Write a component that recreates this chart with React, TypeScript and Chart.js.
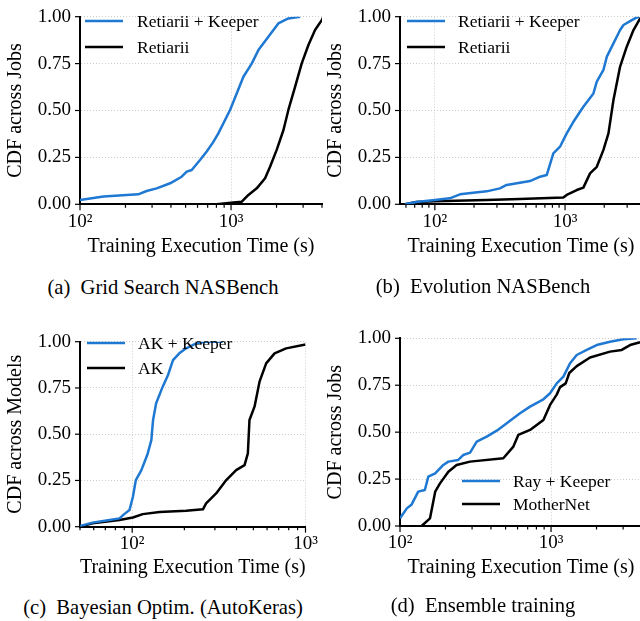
import { useEffect, useRef } from 'react';
import { Chart, registerables } from 'chart.js';

Chart.register(...registerables);

const FONT = "'Liberation Serif', 'Times New Roman', serif";
const BLUE = '#1f78d2';
const BLACK = '#000000';
const GRID = '#cccccc';

// ---------- (a) Grid Search NASBench ----------
const gridKeeperTime = [100, 143, 243, 276, 322, 395, 471, 509, 549, 623, 690, 760, 824, 985, 1090, 1207, 1370, 1517, 1766, 2056, 2396, 2864];
const gridKeeperCdf = [0.023, 0.041, 0.053, 0.071, 0.085, 0.112, 0.147, 0.174, 0.183, 0.236, 0.281, 0.33, 0.378, 0.503, 0.591, 0.68, 0.75, 0.822, 0.893, 0.964, 0.991, 1.0];
const gridBaseTime = [804, 1036, 1178, 1303, 1479, 1680, 1812, 2005, 2223, 2396, 2656, 2937, 3252, 3598, 3984, 4100];
const gridBaseCdf = [0, 0.009, 0.014, 0.05, 0.085, 0.139, 0.2, 0.29, 0.396, 0.503, 0.627, 0.751, 0.849, 0.929, 0.982, 1.0];

// ---------- (b) Evolution NASBench ----------
const evoKeeperTime = [59, 72, 100, 130, 156, 197, 250, 316, 356, 450, 538, 643, 723, 813, 915, 1030, 1159, 1383, 1652, 1753, 1972, 2094, 2354, 2648, 2811, 3258, 3556, 3700];
const evoKeeperCdf = [0, 0.012, 0.023, 0.032, 0.053, 0.062, 0.069, 0.085, 0.103, 0.115, 0.124, 0.147, 0.156, 0.272, 0.307, 0.378, 0.44, 0.52, 0.591, 0.654, 0.716, 0.787, 0.858, 0.929, 0.956, 0.982, 0.996, 1.0];
const evoBaseTime = [59, 72, 100, 250, 450, 970, 1030, 1230, 1383, 1556, 1753, 1972, 2155, 2354, 2648, 2978, 3354, 3775, 4000];
const evoBaseCdf = [0, 0.012, 0.016, 0.023, 0.028, 0.036, 0.05, 0.076, 0.089, 0.165, 0.2, 0.29, 0.378, 0.556, 0.734, 0.84, 0.929, 0.991, 1.0];

// ---------- (c) Bayesian Optim. (AutoKeras) ----------
const akKeeperTime = [50, 59, 74, 84.5, 90, 96.5, 101, 105, 113, 118, 123, 129, 132, 137.5, 150, 161, 172, 187, 205, 234, 267, 333];
const akKeeperCdf = [0.004, 0.022, 0.036, 0.045, 0.068, 0.09, 0.162, 0.252, 0.306, 0.351, 0.396, 0.468, 0.577, 0.667, 0.757, 0.82, 0.9, 0.937, 0.964, 0.991, 1.0, 1.0];
const akBaseTime = [50, 59, 84.5, 101, 115, 144, 205, 256, 267, 305, 349, 398, 445, 465, 475, 508, 543, 593, 663, 773, 1000];
const akBaseCdf = [0, 0.018, 0.036, 0.05, 0.068, 0.079, 0.086, 0.094, 0.126, 0.18, 0.252, 0.306, 0.333, 0.396, 0.577, 0.649, 0.784, 0.883, 0.937, 0.964, 0.985];

// ---------- (d) Ensemble training ----------
const ensKeeperTime = [100, 111, 119.5, 132, 146, 154, 171, 193.5, 209, 243, 262, 291, 322, 375, 437, 509, 623, 726, 890, 985, 1090, 1207, 1336, 1479, 1722, 2005, 2458, 3012, 3690];
const ensKeeperCdf = [0.041, 0.094, 0.115, 0.183, 0.192, 0.263, 0.281, 0.325, 0.343, 0.352, 0.378, 0.391, 0.449, 0.476, 0.508, 0.547, 0.601, 0.636, 0.675, 0.707, 0.76, 0.796, 0.867, 0.911, 0.938, 0.964, 0.982, 0.995, 1.0];
const ensBaseTime = [139, 158, 171, 184, 209, 237, 291, 483, 563, 607, 726, 890, 985, 1090, 1148, 1250, 1320, 1479, 1812, 2458, 2937, 3334, 3882];
const ensBaseCdf = [0, 0.041, 0.183, 0.227, 0.289, 0.325, 0.343, 0.361, 0.423, 0.485, 0.512, 0.565, 0.645, 0.7, 0.74, 0.76, 0.815, 0.852, 0.898, 0.929, 0.938, 0.964, 0.979];

// ---------- ticks / labels ----------
const yTickValues = [0, 0.25, 0.5, 0.75, 1];
const decades = [10, 100, 1000];
const minorMultipliers = [1, 2, 3, 4, 5, 6, 7, 8, 9];
const superscripts: Record<number, string> = { 1: '\u00b9', 2: '\u00b2', 3: '\u00b3' };
const xTitle = 'Training Execution Time (s)';

function isPow10(v: number) {
  const l = Math.log10(v);
  return Math.abs(l - Math.round(l)) < 1e-9;
}
function powLabel(v: number) {
  const e = Math.round(Math.log10(v));
  return '10' + (superscripts[e] || String(e));
}
function tickList(min: number, max: number) {
  const out: number[] = [];
  decades.forEach((d) => minorMultipliers.forEach((m) => {
    const v = d * m;
    if (v >= min * 0.999 && v <= max * 1.001) out.push(v);
  }));
  return out;
}

type Series = { label: string; color: string; t: number[]; c: number[] };
type Panel = {
  key: string;
  box: { x: number; y: number; w: number; h: number };
  area: { l: number; t: number; r: number; b: number };
  xMin: number;
  xMax: number;
  yTitle: string;
  series: Series[];
  legend: { x: number; y: number; dy: number; len: number; gap: number };
  caption: string;
  capX: number;
  capBaseline: number;
};

const panels: Panel[] = [
  {
    key: 'a', box: { x: 0, y: 0, w: 330, h: 263 }, area: { l: 80, t: 16.7, r: 322, b: 204.3 },
    xMin: 100, xMax: 4000, yTitle: 'CDF across Jobs',
    series: [
      { label: 'Retiarii + Keeper', color: BLUE, t: gridKeeperTime, c: gridKeeperCdf },
      { label: 'Retiarii', color: BLACK, t: gridBaseTime, c: gridBaseCdf },
    ],
    legend: { x: 85, y: 21, dy: 26, len: 38, gap: 14 },
    caption: '(a)  Grid Search NASBench', capX: 163, capBaseline: 294,
  },
  {
    key: 'b', box: { x: 320, y: 0, w: 330, h: 263 }, area: { l: 400, t: 16.7, r: 642, b: 204.3 },
    xMin: 54, xMax: 3900, yTitle: 'CDF across Jobs',
    series: [
      { label: 'Retiarii + Keeper', color: BLUE, t: evoKeeperTime, c: evoKeeperCdf },
      { label: 'Retiarii', color: BLACK, t: evoBaseTime, c: evoBaseCdf },
    ],
    legend: { x: 407, y: 21, dy: 26, len: 38, gap: 13 },
    caption: '(b)  Evolution NASBench', capX: 483, capBaseline: 293,
  },
  {
    key: 'c', box: { x: 0, y: 320, w: 330, h: 264 }, area: { l: 80, t: 341.7, r: 305.5, b: 526.7 },
    xMin: 50, xMax: 1000, yTitle: 'CDF across Models',
    series: [
      { label: 'AK + Keeper', color: BLUE, t: akKeeperTime, c: akKeeperCdf },
      { label: 'AK', color: BLACK, t: akBaseTime, c: akBaseCdf },
    ],
    legend: { x: 87, y: 343, dy: 25, len: 38, gap: 13 },
    caption: '(c)  Bayesian Optim. (AutoKeras)', capX: 163, capBaseline: 614,
  },
  {
    key: 'd', box: { x: 320, y: 320, w: 330, h: 264 }, area: { l: 400, t: 338.3, r: 642, b: 526 },
    xMin: 100, xMax: 4000, yTitle: 'CDF across Jobs',
    series: [
      { label: 'Ray + Keeper', color: BLUE, t: ensKeeperTime, c: ensKeeperCdf },
      { label: 'MotherNet', color: BLACK, t: ensBaseTime, c: ensBaseCdf },
    ],
    legend: { x: 462, y: 481, dy: 23, len: 38, gap: 13 },
    caption: '(d)  Ensemble training', capX: 483, capBaseline: 612,
  },
];

function makeChart(canvas: HTMLCanvasElement, p: Panel) {
  const tickMarks = {
    id: 'tickMarks',
    afterDraw(chart: any) {
      const ctx = chart.ctx;
      const xs = chart.scales.x;
      const ys = chart.scales.y;
      const { left, bottom } = chart.chartArea;
      ctx.save();
      ctx.strokeStyle = '#000';
      ctx.lineWidth = 1.2;
      xs.ticks.forEach((t: any) => {
        const px = xs.getPixelForValue(t.value);
        const len = isPow10(t.value) ? 6 : 3.5;
        ctx.beginPath();
        ctx.moveTo(px, bottom);
        ctx.lineTo(px, bottom + len);
        ctx.stroke();
      });
      ys.ticks.forEach((t: any) => {
        const py = ys.getPixelForValue(t.value);
        ctx.beginPath();
        ctx.moveTo(left - 5, py);
        ctx.lineTo(left, py);
        ctx.stroke();
      });
      ctx.restore();
    },
  };
  const legendPlugin = {
    id: 'panelLegend',
    afterDraw(chart: any) {
      const ctx = chart.ctx;
      const lx = p.legend.x - p.box.x;
      const ly = p.legend.y - p.box.y;
      ctx.save();
      ctx.font = `17.5px ${FONT}`;
      ctx.textBaseline = 'middle';
      ctx.textAlign = 'left';
      chart.data.datasets.forEach((ds: any, i: number) => {
        const y = ly + i * p.legend.dy;
        ctx.strokeStyle = ds.borderColor;
        ctx.lineWidth = 2.6;
        ctx.beginPath();
        ctx.moveTo(lx, y);
        ctx.lineTo(lx + p.legend.len, y);
        ctx.stroke();
        ctx.fillStyle = '#000';
        ctx.fillText(ds.label, lx + p.legend.len + p.legend.gap, y + 1);
      });
      ctx.restore();
    },
  };

  return new Chart(canvas, {
    type: 'line',
    data: {
      datasets: p.series.map((s) => ({
        label: s.label,
        data: s.t.map((t, i) => ({ x: t, y: s.c[i] })),
        borderColor: s.color,
        backgroundColor: s.color,
        borderWidth: 2.5,
        pointRadius: 0,
        tension: 0,
        fill: false,
        borderJoinStyle: 'round' as const,
      })),
    },
    options: {
      animation: false,
      responsive: false,
      maintainAspectRatio: false,
      events: [],
      layout: {
        padding: {
          left: 0,
          top: p.area.t - p.box.y,
          right: p.box.x + p.box.w - p.area.r,
          bottom: 0,
        },
      },
      plugins: {
        legend: { display: false },
        tooltip: { enabled: false },
        title: { display: false },
      },
      scales: {
        x: {
          type: 'logarithmic',
          min: p.xMin,
          max: p.xMax,
          bounds: 'data',
          afterBuildTicks: (sc: any) => {
            sc.ticks = tickList(p.xMin, p.xMax).map((v) => ({ value: v, major: isPow10(v) }));
          },
          afterFit: (sc: any) => {
            sc.height = p.box.y + p.box.h - p.area.b;
          },
          ticks: {
            autoSkip: false,
            maxRotation: 0,
            minRotation: 0,
            padding: 2,
            color: '#000',
            font: { family: FONT, size: 19 },
            callback: (v: any) => (isPow10(Number(v)) ? powLabel(Number(v)) : ''),
          },
          grid: {
            color: (ctx: any) => (ctx.tick && isPow10(ctx.tick.value) ? GRID : 'rgba(0,0,0,0)'),
            lineWidth: 1,
            drawTicks: true,
            tickLength: 4,
            tickColor: 'rgba(0,0,0,0)',
          },
          border: { display: true, color: '#000', width: 2, dash: [1, 2] },
          title: {
            display: true,
            text: xTitle,
            color: '#000',
            font: { family: FONT, size: 20 },
            padding: { top: 0, bottom: 4 },
          },
        },
        y: {
          type: 'linear',
          min: 0,
          max: 1,
          afterBuildTicks: (sc: any) => {
            sc.ticks = yTickValues.map((v) => ({ value: v }));
          },
          afterFit: (sc: any) => {
            sc.width = p.area.l - p.box.x;
          },
          ticks: {
            padding: 5,
            color: '#000',
            font: { family: FONT, size: 19 },
            callback: (v: any) => Number(v).toFixed(2),
          },
          grid: {
            color: GRID,
            lineWidth: 1,
            drawTicks: true,
            tickLength: 4,
            tickColor: 'rgba(0,0,0,0)',
          },
          border: { display: true, color: '#000', width: 2, dash: [1, 2] },
          title: {
            display: true,
            text: p.yTitle,
            color: '#000',
            font: { family: FONT, size: 20 },
            padding: { top: 4, bottom: 0 },
          },
        },
      },
    } as any,
    plugins: [tickMarks, legendPlugin],
  });
}

function PanelView({ p }: { p: Panel }) {
  const ref = useRef<HTMLCanvasElement>(null);
  useEffect(() => {
    if (!ref.current) return;
    const chart = makeChart(ref.current, p);
    return () => chart.destroy();
  }, [p]);
  return (
    <>
      <canvas
        ref={ref}
        width={p.box.w}
        height={p.box.h}
        style={{ position: 'absolute', left: p.box.x, top: p.box.y, width: p.box.w, height: p.box.h }}
      />
      <div
        style={{
          position: 'absolute',
          left: p.capX - 170,
          width: 340,
          top: p.capBaseline - 17.2,
          textAlign: 'center',
          fontFamily: FONT,
          fontSize: 20.6,
          lineHeight: '20.6px',
          whiteSpace: 'pre',
          color: '#000',
        }}
      >
        {p.caption}
      </div>
    </>
  );
}

export default function App() {
  return (
    <div
      style={{
        position: 'fixed',
        left: 0,
        top: 0,
        width: 640,
        height: 621,
        overflow: 'hidden',
        background: '#fff',
      }}
    >
      {panels.map((p) => (
        <PanelView key={p.key} p={p} />
      ))}
    </div>
  );
}
